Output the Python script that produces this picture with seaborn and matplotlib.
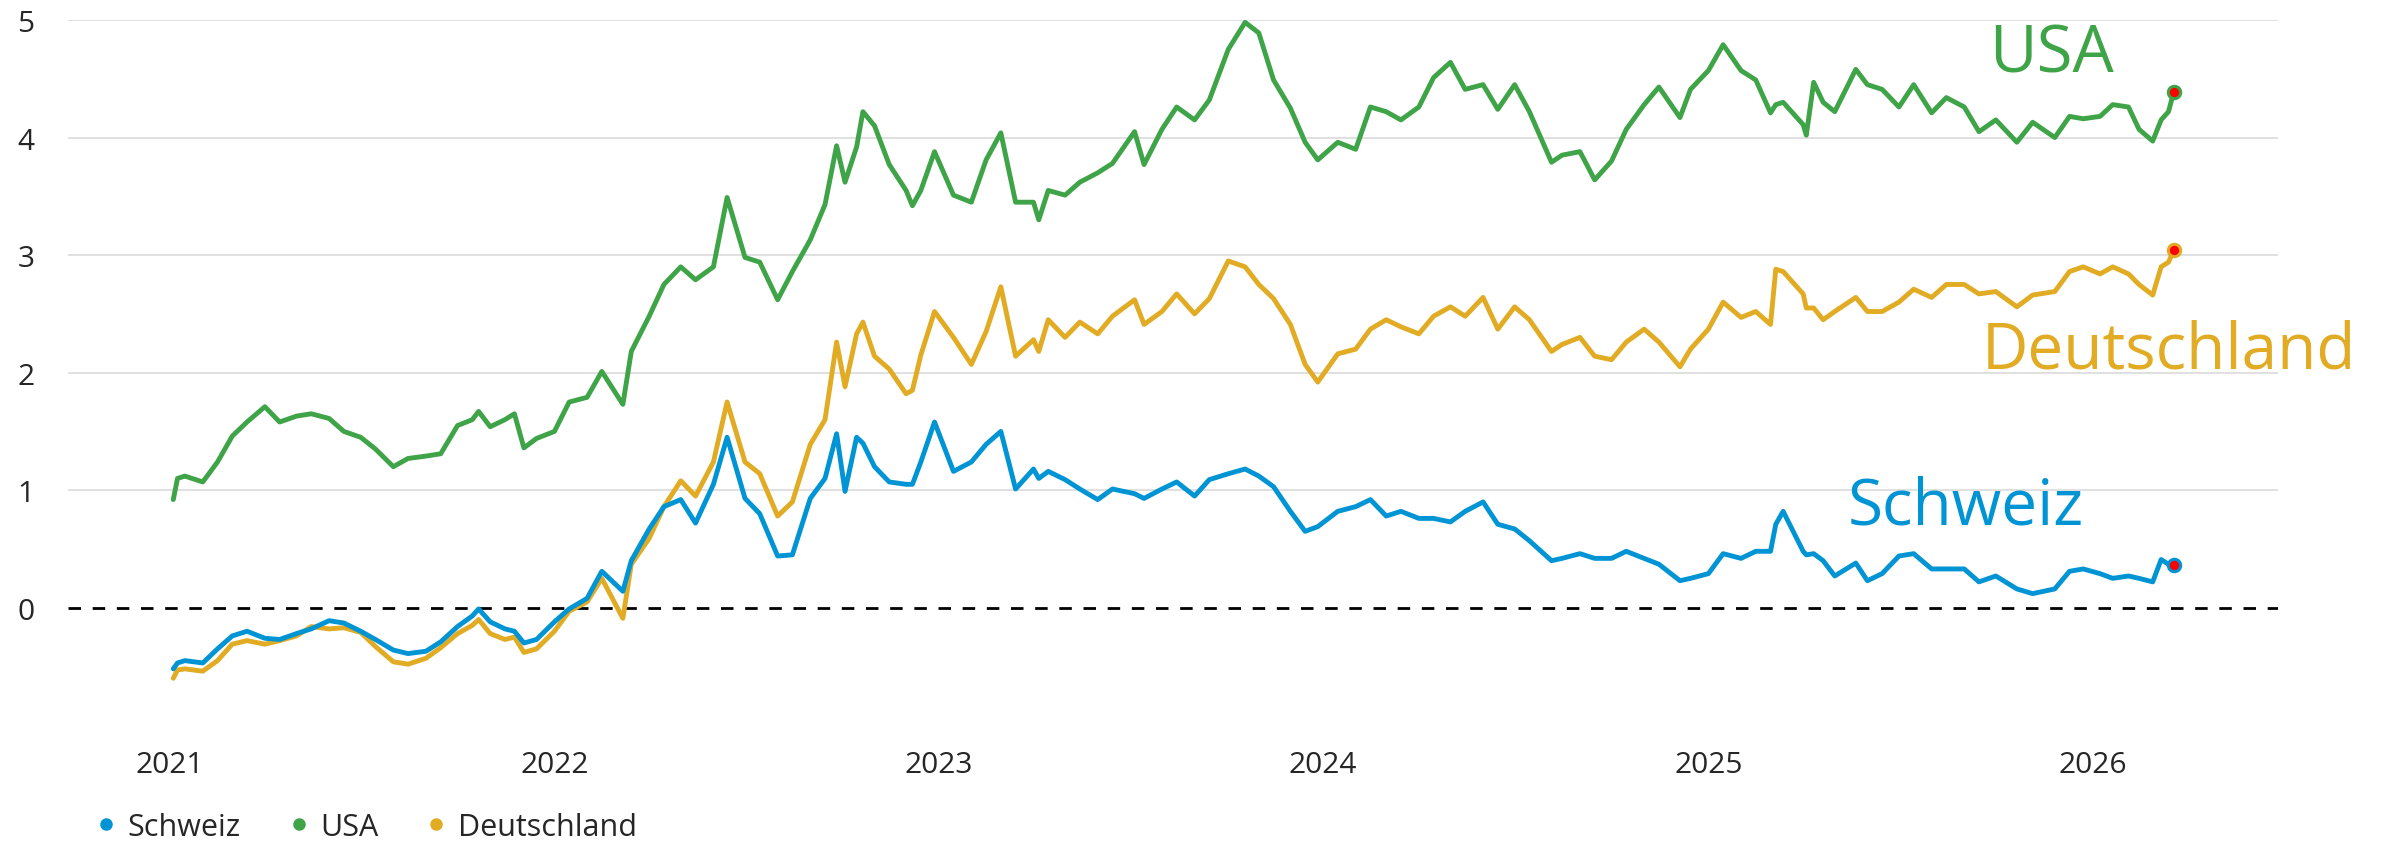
import numpy as np
import pandas as pd
import matplotlib
matplotlib.use('Agg')
import matplotlib.pyplot as plt
import matplotlib.dates as mdates
from matplotlib.lines import Line2D
import seaborn as sns


### Data (10-year yields in %)
dates = [
    '2021-01-04', '2021-01-08', '2021-01-15', '2021-02-01', '2021-02-15', '2021-03-01', '2021-03-15',
    '2021-04-01', '2021-04-15', '2021-05-01', '2021-05-15', '2021-06-01', '2021-06-15', '2021-07-01',
    '2021-07-15', '2021-08-01', '2021-08-15', '2021-09-01', '2021-09-15', '2021-10-01', '2021-10-15',
    '2021-10-21', '2021-11-01', '2021-11-15', '2021-11-24', '2021-12-03', '2021-12-15', '2022-01-01',
    '2022-01-15', '2022-02-01', '2022-02-15', '2022-03-07', '2022-03-15', '2022-04-01', '2022-04-15',
    '2022-05-01', '2022-05-15', '2022-06-01', '2022-06-14', '2022-07-01', '2022-07-15', '2022-08-01',
    '2022-08-15', '2022-09-01', '2022-09-15', '2022-09-26', '2022-10-04', '2022-10-15', '2022-10-21',
    '2022-11-01', '2022-11-15', '2022-12-01', '2022-12-07', '2022-12-15', '2022-12-28', '2023-01-15',
    '2023-02-01', '2023-02-15', '2023-03-01', '2023-03-15', '2023-04-01', '2023-04-06', '2023-04-15',
    '2023-05-01', '2023-05-15', '2023-06-01', '2023-06-15', '2023-07-06', '2023-07-15', '2023-08-01',
    '2023-08-15', '2023-09-01', '2023-09-15', '2023-10-03', '2023-10-19', '2023-11-01', '2023-11-15',
    '2023-12-01', '2023-12-15', '2023-12-27', '2024-01-15', '2024-02-01', '2024-02-15', '2024-03-01',
    '2024-03-15', '2024-04-01', '2024-04-15', '2024-05-01', '2024-05-15', '2024-06-01', '2024-06-15',
    '2024-07-01', '2024-07-15', '2024-08-05', '2024-08-15', '2024-09-01', '2024-09-15', '2024-10-01',
    '2024-10-15', '2024-11-01', '2024-11-15', '2024-12-05', '2024-12-15', '2025-01-01', '2025-01-15',
    '2025-02-01', '2025-02-15', '2025-03-01', '2025-03-06', '2025-03-13', '2025-04-01', '2025-04-04',
    '2025-04-11', '2025-04-20', '2025-05-01', '2025-05-21', '2025-06-01', '2025-06-15', '2025-07-01',
    '2025-07-15', '2025-08-01', '2025-08-15', '2025-09-01', '2025-09-15', '2025-10-01', '2025-10-21',
    '2025-11-05', '2025-11-26', '2025-12-10', '2025-12-23', '2026-01-08', '2026-01-20', '2026-02-04',
    '2026-02-14', '2026-02-27', '2026-03-07', '2026-03-14', '2026-03-19',
]

usa = [
    0.92, 1.10, 1.12, 1.07, 1.24, 1.46, 1.58, 1.71, 1.58, 1.63, 1.65, 1.61, 1.50, 1.45,
    1.35, 1.20, 1.27, 1.29, 1.31, 1.55, 1.60, 1.67, 1.54, 1.60, 1.65, 1.36, 1.44, 1.50,
    1.75, 1.79, 2.01, 1.73, 2.18, 2.48, 2.75, 2.90, 2.79, 2.90, 3.49, 2.98, 2.94, 2.62,
    2.86, 3.13, 3.43, 3.93, 3.62, 3.92, 4.22, 4.10, 3.77, 3.55, 3.42, 3.55, 3.88, 3.51,
    3.45, 3.81, 4.04, 3.45, 3.45, 3.30, 3.55, 3.51, 3.62, 3.70, 3.78, 4.05, 3.77, 4.07,
    4.26, 4.15, 4.32, 4.75, 4.98, 4.89, 4.49, 4.25, 3.96, 3.81, 3.96, 3.90, 4.26, 4.22,
    4.15, 4.26, 4.51, 4.64, 4.41, 4.45, 4.24, 4.45, 4.22, 3.79, 3.85, 3.88, 3.64, 3.80,
    4.07, 4.28, 4.43, 4.17, 4.41, 4.57, 4.79, 4.57, 4.49, 4.21, 4.28, 4.30, 4.11, 4.02,
    4.47, 4.30, 4.22, 4.58, 4.45, 4.41, 4.26, 4.45, 4.21, 4.34, 4.26, 4.05, 4.15, 3.96,
    4.13, 4.00, 4.18, 4.16, 4.18, 4.28, 4.26, 4.07, 3.97, 4.15, 4.22, 4.39,
]

schweiz = [
    -0.52, -0.47, -0.45, -0.47, -0.35, -0.24, -0.20, -0.26, -0.27, -0.22, -0.18, -0.11, -0.13, -0.20,
    -0.27, -0.36, -0.39, -0.37, -0.29, -0.16, -0.07, -0.01, -0.12, -0.18, -0.20, -0.30, -0.27, -0.12,
    -0.01, 0.08, 0.31, 0.14, 0.40, 0.67, 0.86, 0.92, 0.72, 1.05, 1.45, 0.93, 0.80, 0.44,
    0.45, 0.93, 1.10, 1.48, 0.99, 1.45, 1.40, 1.20, 1.07, 1.05, 1.05, 1.24, 1.58, 1.16,
    1.24, 1.39, 1.50, 1.01, 1.18, 1.10, 1.16, 1.09, 1.01, 0.92, 1.01, 0.97, 0.93, 1.01,
    1.07, 0.95, 1.09, 1.14, 1.18, 1.12, 1.03, 0.82, 0.65, 0.69, 0.82, 0.86, 0.92, 0.78,
    0.82, 0.76, 0.76, 0.73, 0.82, 0.90, 0.71, 0.67, 0.57, 0.40, 0.42, 0.46, 0.42, 0.42,
    0.48, 0.42, 0.37, 0.23, 0.25, 0.29, 0.46, 0.42, 0.48, 0.48, 0.71, 0.82, 0.48, 0.45,
    0.46, 0.40, 0.27, 0.38, 0.23, 0.29, 0.44, 0.46, 0.33, 0.33, 0.33, 0.22, 0.27, 0.16,
    0.12, 0.16, 0.31, 0.33, 0.29, 0.25, 0.27, 0.25, 0.22, 0.41, 0.37, 0.36,
]

deutschland = [
    -0.60, -0.53, -0.52, -0.54, -0.45, -0.31, -0.28, -0.31, -0.28, -0.24, -0.16, -0.18, -0.17, -0.21,
    -0.33, -0.46, -0.48, -0.43, -0.34, -0.22, -0.15, -0.10, -0.22, -0.27, -0.25, -0.38, -0.35, -0.20,
    -0.03, 0.05, 0.25, -0.09, 0.37, 0.59, 0.86, 1.08, 0.95, 1.24, 1.75, 1.24, 1.14, 0.78,
    0.90, 1.39, 1.60, 2.26, 1.88, 2.33, 2.43, 2.14, 2.03, 1.82, 1.85, 2.15, 2.52, 2.30,
    2.07, 2.35, 2.73, 2.14, 2.28, 2.18, 2.45, 2.30, 2.43, 2.33, 2.48, 2.62, 2.41, 2.52,
    2.67, 2.50, 2.63, 2.95, 2.90, 2.75, 2.63, 2.41, 2.07, 1.92, 2.16, 2.20, 2.37, 2.45,
    2.39, 2.33, 2.48, 2.56, 2.48, 2.64, 2.37, 2.56, 2.45, 2.18, 2.24, 2.30, 2.14, 2.11,
    2.26, 2.37, 2.26, 2.05, 2.20, 2.37, 2.60, 2.47, 2.52, 2.41, 2.88, 2.86, 2.67, 2.55,
    2.55, 2.45, 2.52, 2.64, 2.52, 2.52, 2.60, 2.71, 2.64, 2.75, 2.75, 2.67, 2.69, 2.56,
    2.66, 2.69, 2.86, 2.90, 2.84, 2.90, 2.84, 2.75, 2.66, 2.90, 2.94, 3.04,
]

year_ticks = ['2021-01-01', '2022-01-01', '2023-01-01', '2024-01-01', '2025-01-01', '2026-01-01']
year_labels = ['2021', '2022', '2023', '2024', '2025', '2026']
y_ticks = [0, 1, 2, 3, 4, 5]

legend_order = ['Schweiz', 'USA', 'Deutschland']
colors = {'Schweiz': '#0094d4', 'USA': '#3ea447', 'Deutschland': '#e1ab23'}

df = pd.DataFrame({'date': pd.to_datetime(dates), 'Schweiz': schweiz, 'USA': usa, 'Deutschland': deutschland})


### Plot
sns.set_style('white')
plt.rcParams['font.family'] = ['Open Sans', 'DejaVu Sans']

W, H = 2381, 845
fig = plt.figure(figsize=(W / 100, H / 100), dpi=100)
ax = fig.add_axes([68 / W, 1 - 711 / H, (2278 - 68) / W, 690 / H])

# grid lines
for y in y_ticks[1:]:
    ax.axhline(y, color='#dddddd', lw=1.3, zorder=0)
ax.axhline(0, color='black', lw=2.0, ls=(0, (4.5, 4.2)), zorder=1)

# lines (blue drawn last so it sits on top of the gold one)
for name in ['Deutschland', 'USA', 'Schweiz']:
    sns.lineplot(x=df['date'], y=df[name], color=colors[name], ax=ax, zorder=3)
    ax.lines[-1].set_linewidth(3.5)
    ax.lines[-1].set_solid_joinstyle('round')

# end points
last = df.iloc[-1]
for name in legend_order:
    ax.scatter([last['date']], [last[name]], s=80, color='red', edgecolor=colors[name],
               linewidth=2.2, zorder=5)

# direct labels
ax.text(pd.Timestamp('2025-09-25'), 4.56, 'USA', color=colors['USA'], fontsize=47, va='baseline', ha='left')
ax.text(pd.Timestamp('2025-09-18'), 2.04, 'Deutschland', color=colors['Deutschland'], fontsize=46,
        va='baseline', ha='left', clip_on=False)
ax.text(pd.Timestamp('2025-05-13'), 0.72, 'Schweiz', color=colors['Schweiz'], fontsize=46, va='baseline', ha='left')

# axes
ax.set_xlim(pd.Timestamp('2020-09-26'), pd.Timestamp('2026-06-26'))
ax.set_ylim(-0.87, 5.0)
ax.set_xticks(pd.to_datetime(year_ticks))
ax.set_xticklabels(year_labels)
ax.set_yticks(y_ticks)
ax.set_yticklabels([str(v) for v in y_ticks])
ax.tick_params(axis='x', length=9.5, width=1.8, color='black', direction='out', pad=19, labelsize=21.5)
ax.tick_params(axis='y', length=0, pad=24, labelsize=21.5)
ax.set_xlabel('')
ax.set_ylabel('')
for s in ax.spines.values():
    s.set_visible(False)
ax.grid(False)

# legend at the bottom
handles = [Line2D([0], [0], marker='o', color='none', markerfacecolor=colors[n], markeredgecolor='none',
                  markersize=9) for n in legend_order]
fig.legend(handles, legend_order, loc='center left', bbox_to_anchor=(94 / W, 1 - 828 / H), ncol=3,
           frameon=False, fontsize=22, handlelength=0.8, handletextpad=0.3, columnspacing=1.5,
           borderpad=0, borderaxespad=0)

fig.savefig('out.png', dpi=100)
